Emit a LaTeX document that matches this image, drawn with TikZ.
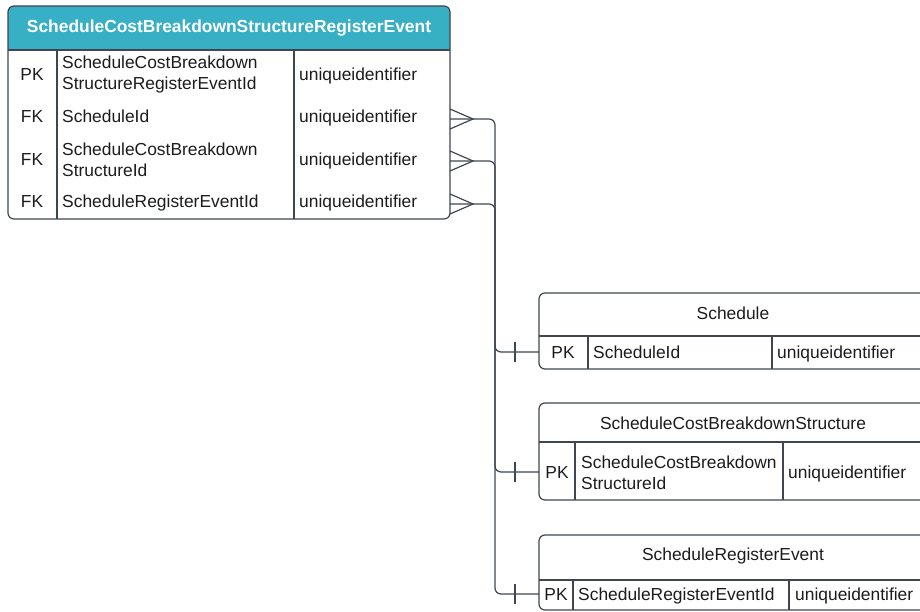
\documentclass[tikz,border=0pt]{standalone}
\usepackage{fontspec}
\setmainfont{Liberation Sans}
\definecolor{hdrteal}{HTML}{37AFC5}
\definecolor{edge}{HTML}{3F4650}
\definecolor{ink}{HTML}{1C1C1C}
\tikzset{
  cell/.style={anchor=west,inner sep=0pt,text=ink,text height=12.5pt,text depth=0pt,font=\fontsize{17.4}{21}\selectfont},
  twoline/.style={anchor=west,inner sep=0pt,text=ink,align=left,yshift=-0.5pt,font=\fontsize{17.4}{21}\selectfont},
  key/.style={inner sep=0pt,text=ink,text height=12.5pt,text depth=0pt,font=\fontsize{17.4}{21}\selectfont},
  tbl/.style={draw=edge,line width=1.2pt,rounded corners=6pt},
  grid/.style={draw=edge,line width=1.2pt},
  rel/.style={draw=edge,line width=1.2pt,rounded corners=6pt},
}
\begin{document}
\begin{tikzpicture}[x=1pt,y=-1pt]
                    \clip (0,0) rectangle (920,612);
                    % main table
                    \fill [hdrteal] (8,50) -- (8,12) arc (180:270:6) -- (444,6) arc (270:360:6) -- (450,50) -- cycle;
                    \draw [tbl] (8,6) rectangle (450,219);
                    \draw [grid] (8,50) -- (450,50);
                    \draw [grid] (57,50) -- (57,219);
                    \draw [grid] (294,50) -- (294,219);
                    \node (srev-title) at (229,26) [inner sep=0pt,text height=12.5pt,text depth=0pt,text=white,font=\fontsize{17.4}{21}\selectfont\bfseries] {ScheduleCostBreakdownStructureRegisterEvent};
                    \node (srev-pk) at (32,74) [key] {PK};
                    \node (srev-id) at (62,74) [twoline] {ScheduleCostBreakdown\\StructureRegisterEventId};
                    \node (srev-idt) at (299,74) [cell] {uniqueidentifier};
                    \node (srev-fk1) at (32,116) [key] {FK};
                    \node (srev-sid) at (62,116) [cell] {ScheduleId};
                    \node (srev-sidt) at (299,116) [cell] {uniqueidentifier};
                    \node (srev-fk2) at (32,159) [key] {FK};
                    \node (srev-cid) at (62,159) [twoline] {ScheduleCostBreakdown\\StructureId};
                    \node (srev-cidt) at (299,159) [cell] {uniqueidentifier};
                    \node (srev-fk3) at (32,201) [key] {FK};
                    \node (srev-rid) at (62,201) [cell] {ScheduleRegisterEventId};
                    \node (srev-ridt) at (299,201) [cell] {uniqueidentifier};
                    % Schedule
                    \draw [tbl] (539,293) rectangle (960,369);
                    \draw [grid] (539,336) -- (960,336);
                    \draw [grid] (588,336) -- (588,369);
                    \draw [grid] (772,336) -- (772,369);
                    \node (sch-title) at (733,313) [key] {Schedule};
                    \node (sch-pk) at (563,352) [key] {PK};
                    \node (sch-id) at (593,352) [cell] {ScheduleId};
                    \node (sch-idt) at (777,352) [cell] {uniqueidentifier};
                    % ScheduleCostBreakdownStructure
                    \draw [tbl] (539,403) rectangle (960,500);
                    \draw [grid] (539,442) -- (960,442);
                    \draw [grid] (575,442) -- (575,500);
                    \draw [grid] (783,442) -- (783,500);
                    \node (cbs-title) at (733,423) [key] {ScheduleCostBreakdownStructure};
                    \node (cbs-pk) at (557,472) [key] {PK};
                    \node (cbs-id) at (581,472) [twoline] {ScheduleCostBreakdown\\StructureId};
                    \node (cbs-idt) at (788,472) [cell] {uniqueidentifier};
                    % ScheduleRegisterEvent
                    \draw [tbl] (539,535) rectangle (960,610);
                    \draw [grid] (539,580) -- (960,580);
                    \draw [grid] (573,580) -- (573,610);
                    \draw [grid] (789,580) -- (789,610);
                    \node (sre-title) at (733,554) [key] {ScheduleRegisterEvent};
                    \node (sre-pk) at (556,594) [key] {PK};
                    \node (sre-id) at (578,594) [cell] {ScheduleRegisterEventId};
                    \node (sre-idt) at (795,594) [cell] {uniqueidentifier};
                    % connector ends
                    \coordinate (from-sch) at (450,119);
                    \coordinate (from-cbs) at (450,161);
                    \coordinate (from-sre) at (450,204);
                    \coordinate (to-sch) at (539,352);
                    \coordinate (to-cbs) at (539,472);
                    \coordinate (to-sre) at (539,594);
                    \draw [rel] (from-sch) -- ++(45,0) |- (to-sch);
                    \draw [rel] (from-cbs) -- ++(45,0) |- (to-cbs);
                    \draw [rel] (from-sre) -- ++(45,0) |- (to-sre);
                    % crow's feet
                    \draw [grid] ([yshift=10pt]from-sch) -- ([xshift=23pt]from-sch) -- ([yshift=-10pt]from-sch);
                    \draw [grid] ([yshift=10pt]from-cbs) -- ([xshift=23pt]from-cbs) -- ([yshift=-10pt]from-cbs);
                    \draw [grid] ([yshift=10pt]from-sre) -- ([xshift=23pt]from-sre) -- ([yshift=-10pt]from-sre);
                    % single ticks
                    \draw [grid] ([xshift=-24pt,yshift=10pt]to-sch) -- ([xshift=-24pt,yshift=-10pt]to-sch);
                    \draw [grid] ([xshift=-24pt,yshift=10pt]to-cbs) -- ([xshift=-24pt,yshift=-10pt]to-cbs);
                    \draw [grid] ([xshift=-24pt,yshift=10pt]to-sre) -- ([xshift=-24pt,yshift=-10pt]to-sre);
                \end{tikzpicture}
\end{document}
